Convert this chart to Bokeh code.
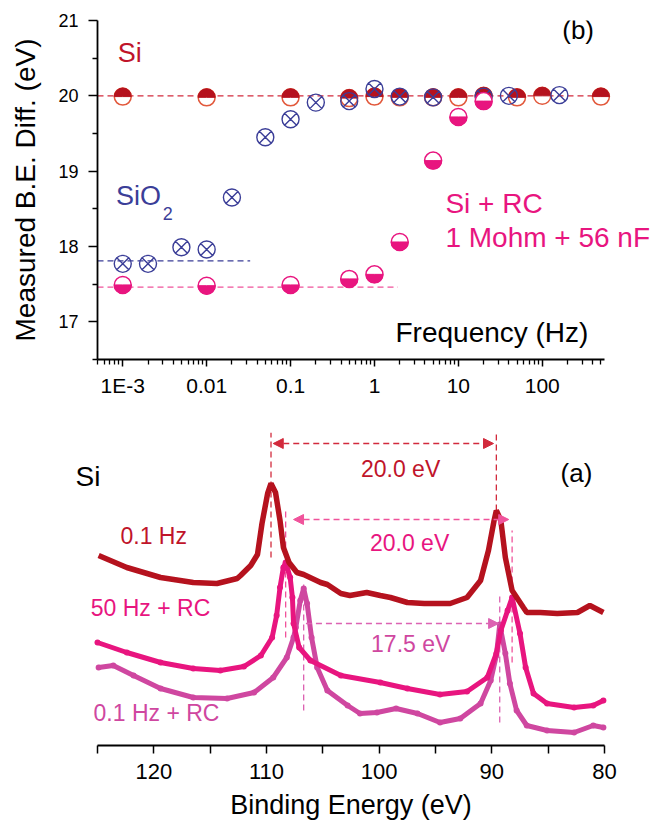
import numpy as np
from bokeh.plotting import figure
from bokeh.models import (Range1d, FixedTicker, Label, Arrow, NormalHead,
                          CustomJSTickFormatter)
from bokeh.embed import file_html
from bokeh.resources import INLINE

FONT = "Liberation Sans"

# ---------------- panel (b) data ----------------
si_freq = [0.001, 0.01, 0.1, 0.5, 1, 2, 5, 10, 20, 50, 100, 500]
si_diff = [19.99, 19.98, 19.98, 19.97, 19.99, 19.98, 19.98, 19.98, 20.0, 19.98, 20.0, 19.99]

sio2_freq = [0.001, 0.002, 0.005, 0.01, 0.02, 0.05, 0.1, 0.2, 0.5, 1, 2, 5, 20, 40, 160]
sio2_diff = [17.77, 17.77, 17.99, 17.96, 18.65, 19.45, 19.69, 19.91, 19.93, 20.09, 19.99,
             19.98, 19.99, 20.0, 20.01]

rc_freq = [0.001, 0.01, 0.1, 0.5, 1, 2, 5, 10, 20]
rc_diff = [17.49, 17.48, 17.49, 17.57, 17.63, 18.06, 19.14, 19.72, 19.93]

si_level, si_level_end = 20.0, 550
sio2_level, sio2_level_end = 17.81, 0.033
rc_level, rc_level_end = 17.46, 1.9

freq_ticks = [0.001, 0.01, 0.1, 1, 10, 100]
freq_tick_labels = ["1E-3", "0.01", "0.1", "1", "10", "100"]
diff_ticks = [17, 18, 19, 20, 21]

# ---------------- panel (a) data ----------------
be_01hz = [124.9, 122.4, 119.4, 116.5, 114.4, 112.6, 112.3, 111.4, 110.8, 110.4, 109.9,
           109.6, 109.2, 108.8, 108.5, 108.0, 107.3, 106.7, 105.2, 104.6, 103.4, 102.6,
           101.1, 99.9, 99.0, 97.5, 96.0, 93.7, 92.2, 91.0, 90.3, 89.8, 89.6, 89.2, 88.8,
           88.2, 87.2, 86.9, 85.7, 84.2, 82.4, 81.3, 80.1]
int_01hz = [190, 178, 168, 163, 162, 167, 170, 180, 191, 222, 252,
            262, 253, 225, 198, 183, 173, 171, 163, 161, 152, 150,
            153, 150, 148, 143, 142, 142, 148, 165, 195, 225, 235, 225, 188,
            155, 138, 133, 133, 132, 133, 140, 133]

be_50hz_rc = [125.0, 122.4, 119.4, 116.5, 114.1, 112.0, 110.5, 109.5, 109.1, 108.8, 108.5,
              108.3, 107.9, 107.7, 107.6, 107.1, 106.1, 103.4, 99.9, 97.5, 94.6, 92.2,
              90.4, 89.6, 89.2, 88.6, 88.2, 87.5, 87.0, 86.3, 85.1, 82.7, 81.0, 80.1]
int_50hz_rc = [103, 93, 83, 77, 75, 79, 90, 108, 130, 158, 178,
               183, 168, 148, 122, 98, 85, 70, 63, 57, 51, 54,
               68, 92, 115, 135, 148, 112, 78, 52, 42, 38, 40, 45]

be_01hz_rc = [124.9, 123.6, 121.8, 119.4, 116.5, 113.5, 111.1, 109.4, 108.2, 107.6, 107.4,
              107.0, 106.7, 106.4, 106.0, 105.5, 104.6, 102.8, 101.7, 100.2, 98.5, 96.6,
              94.6, 92.8, 91.0, 90.1, 89.6, 89.3, 88.8, 88.4, 87.8, 86.9, 85.1, 82.7,
              81.0, 80.1]
int_01hz_rc = [78, 80, 70, 57, 48, 47, 53, 68, 88, 108, 118,
               145, 157, 142, 108, 78, 55, 40, 32, 33, 37, 32,
               23, 27, 42, 65, 90, 121, 92, 62, 35, 20, 15, 13,
               20, 18]

# peak positions (eV) used for the energy-difference annotations
peaks_01hz = [109.6, 89.6]
peaks_50hz_rc = [108.3, 88.2]
peaks_01hz_rc = [106.7, 89.3]

be_ticks = [80, 90, 100, 110, 120]
be_minor = [85, 95, 105, 115, 125]

DARK_RED = "#b5121e"
LABEL_RED = "#c0142a"
SI_OUT = "#e2593c"
NAVY = "#3b3e98"
PINK = "#e8157f"
PURPLE = "#cf47a0"
RED_DASH = "#d22a3c"
PINK_DASH = "#f0539b"
PURPLE_DASH = "#dc62b2"

# ================= figure (b) =================
F_LO, F_HI, F_VIEW_HI = 5e-4, 550, 2059
p1 = figure(width=652, height=400, x_axis_type="log",
            x_range=Range1d(F_LO, F_VIEW_HI), y_range=Range1d(16.5, 21),
            output_backend="svg", toolbar_location=None,
            min_border_left=97, min_border_right=0,
            min_border_top=20, min_border_bottom=41)
p1.outline_line_color = None
p1.grid.visible = False

# dashed reference levels
p1.line([F_LO, si_level_end], [si_level, si_level], line_color=RED_DASH,
        line_dash="6 4", line_width=1.3)
p1.line([F_LO, sio2_level_end], [sio2_level, sio2_level], line_color=NAVY,
        line_dash="6 4", line_width=1.3)
p1.line([F_LO, rc_level_end], [rc_level, rc_level], line_color=PINK_DASH,
        line_dash="6 4", line_width=1.3)

# Si : top half filled
p1.scatter(si_freq, si_diff, marker="circle", size=17, fill_color="white",
           line_color=SI_OUT, line_width=1.5)
p1.wedge(si_freq, si_diff, radius=8.5, radius_units="screen", start_angle=0,
         end_angle=np.pi, fill_color=DARK_RED, line_color=DARK_RED, line_width=1)

# SiO2 : crossed circles
p1.scatter(sio2_freq, sio2_diff, marker="circle_x", size=17, fill_color=None,
           line_color=NAVY, line_width=1.4)

# Si + RC : bottom half filled
p1.scatter(rc_freq, rc_diff, marker="circle", size=17, fill_color="white",
           line_color=PINK, line_width=1.5)
p1.wedge(rc_freq, rc_diff, radius=8.5, radius_units="screen", start_angle=np.pi,
         end_angle=2 * np.pi, fill_color=PINK, line_color=PINK, line_width=1)

minor_freq = [m * t for t in [1e-4] + freq_ticks for m in range(2, 10)]
minor_freq = [f for f in minor_freq if F_LO <= f <= F_HI]
p1.xaxis.ticker = FixedTicker(ticks=freq_ticks, minor_ticks=minor_freq)
p1.xaxis.bounds = (F_LO, F_HI)
p1.xaxis.formatter = CustomJSTickFormatter(
    args=dict(vals=freq_ticks, labs=freq_tick_labels),
    code="""
    for (let i = 0; i < vals.length; i++) {
        if (Math.abs(Math.log10(vals[i]) - Math.log10(tick)) < 1e-6) return labs[i];
    }
    return "";
    """)
p1.yaxis.ticker = FixedTicker(ticks=diff_ticks,
                              minor_ticks=[t - 0.5 for t in diff_ticks])
p1.yaxis.axis_label = "Measured B.E. Diff. (eV)"

for ax in [p1.xaxis[0], p1.yaxis[0]]:
    ax.axis_line_width = 1.8
    ax.axis_line_color = "black"
    ax.major_tick_line_width = 1.5
    ax.minor_tick_line_width = 1.3
    ax.major_tick_in = 0
    ax.minor_tick_in = 0
    ax.major_label_text_font = FONT
    ax.major_label_text_color = "black"
    ax.axis_label_text_font = FONT
    ax.axis_label_text_font_style = "normal"
    ax.axis_label_text_font_size = "28px"
    ax.axis_label_text_color = "black"

p1.xaxis.major_label_text_font_size = "21px"
p1.yaxis.major_label_text_font_size = "18px"
p1.xaxis.major_tick_out = 7
p1.xaxis.minor_tick_out = 5
p1.xaxis.major_label_standoff = 7
p1.yaxis.major_tick_out = 9
p1.yaxis.minor_tick_out = 5
p1.yaxis.major_label_standoff = 10
p1.yaxis.axis_label_standoff = 14


def lab(p, x, y, text, color="black", size="26px", align="left"):
    p.add_layout(Label(x=x, y=y, text=text, text_color=color, text_font=FONT,
                       text_font_size=size, text_align=align,
                       text_baseline="middle"))


lab(p1, 173, 20.87, "(b)", size="26px")
lab(p1, 8.7e-4, 20.57, "Si", color=LABEL_RED, size="27px")
lab(p1, 8.3e-4, 18.67, "SiO", color=NAVY, size="27px")
lab(p1, 3.0e-3, 18.44, "2", color=NAVY, size="18px")
lab(p1, 7.0, 18.57, "Si + RC", color=PINK, size="28px")
lab(p1, 7.0, 18.12, "1 Mohm + 56 nF", color=PINK, size="28px")
lab(p1, 1.78, 16.86, "Frequency (Hz)", size="28px")

# ================= figure (a) =================
BE_HI, BE_LO = 125, 80
p2 = figure(width=652, height=424, x_range=Range1d(129.26, 75.74),
            y_range=Range1d(0, 313),
            output_backend="svg", toolbar_location=None,
            min_border_left=49, min_border_right=0,
            min_border_top=32, min_border_bottom=79)
p2.outline_line_color = None
p2.grid.visible = False
p2.yaxis.visible = False

dash = "6 4"
# red 20.0 eV
p2.segment(x0=peaks_01hz, y0=[188, 235], x1=peaks_01hz, y1=[313, 313],
           line_color=RED_DASH, line_dash=dash, line_width=1.3)
# pink 20.0 eV
p2.segment(x0=peaks_50hz_rc, y0=[108, 83], x1=peaks_50hz_rc, y1=[235, 215],
           line_color=PINK_DASH, line_dash=dash, line_width=1.3)
# purple 17.5 eV
p2.segment(x0=peaks_01hz_rc, y0=[35, 23], x1=peaks_01hz_rc, y1=[165, 152],
           line_color=PURPLE_DASH, line_dash=dash, line_width=1.3)

p2.add_layout(Arrow(x_start=peaks_01hz[0] - 0.2, y_start=302,
                    x_end=peaks_01hz[1] + 0.25, y_end=302,
                    start=NormalHead(size=10, fill_color=RED_DASH, line_color=RED_DASH),
                    end=NormalHead(size=10, fill_color=RED_DASH, line_color=RED_DASH),
                    line_color=RED_DASH, line_dash=dash, line_width=1.3))
p2.add_layout(Arrow(x_start=peaks_50hz_rc[0] - 0.7, y_start=226,
                    x_end=peaks_50hz_rc[1] + 0.3, y_end=226,
                    start=NormalHead(size=10, fill_color=PINK_DASH, line_color=PINK_DASH),
                    end=NormalHead(size=10, fill_color=PINK_DASH, line_color=PINK_DASH),
                    line_color=PINK_DASH, line_dash=dash, line_width=1.3))
p2.add_layout(Arrow(x_start=peaks_01hz_rc[0] - 0.2, y_start=122,
                    x_end=peaks_01hz_rc[1] + 0.1, y_end=122,
                    end=NormalHead(size=10, fill_color=PURPLE_DASH, line_color=PURPLE_DASH),
                    line_color=PURPLE_DASH, line_dash=dash, line_width=1.3))

# spectra
p2.line(be_01hz_rc, int_01hz_rc, line_color=PURPLE, line_width=5)
p2.scatter(be_01hz_rc, int_01hz_rc, marker="circle", size=6, fill_color=PURPLE,
           line_color=None)
p2.line(be_50hz_rc, int_50hz_rc, line_color=PINK, line_width=5)
p2.scatter(be_50hz_rc, int_50hz_rc, marker="circle", size=6, fill_color=PINK,
           line_color=None)
p2.line(be_01hz, int_01hz, line_color=DARK_RED, line_width=5.5)

p2.xaxis.ticker = FixedTicker(ticks=be_ticks, minor_ticks=be_minor)
p2.xaxis.bounds = (BE_LO, BE_HI)
p2.xaxis.axis_label = "Binding Energy (eV)"
ax = p2.xaxis[0]
ax.axis_line_width = 1.8
ax.axis_line_color = "black"
ax.major_tick_line_width = 1.5
ax.minor_tick_line_width = 1.5
ax.major_tick_in = 0
ax.minor_tick_in = 0
ax.major_tick_out = 8
ax.minor_tick_out = 8
ax.major_label_standoff = 10
ax.axis_label_standoff = 8
ax.major_label_text_font = FONT
ax.major_label_text_font_size = "22px"
ax.major_label_text_color = "black"
ax.axis_label_text_font = FONT
ax.axis_label_text_font_style = "normal"
ax.axis_label_text_font_size = "27px"
ax.axis_label_text_color = "black"

lab(p2, 126.95, 269, "Si", size="28px")
lab(p2, 122.96, 210, "0.1 Hz", color=LABEL_RED, size="23px")
lab(p2, 125.6, 138, "50 Hz + RC", color=PINK, size="23px")
lab(p2, 125.35, 33, "0.1 Hz + RC", color=PURPLE, size="23px")
lab(p2, 83.9, 273, "(a)", size="26px")
lab(p2, 98.1, 277, "20.0 eV", color=LABEL_RED, size="23px", align="center")
lab(p2, 97.3, 203, "20.0 eV", color=PINK, size="23px", align="center")
lab(p2, 97.2, 102, "17.5 eV", color=PURPLE, size="23px", align="center")

open("out.html", "w").write(file_html([p1, p2], INLINE))
